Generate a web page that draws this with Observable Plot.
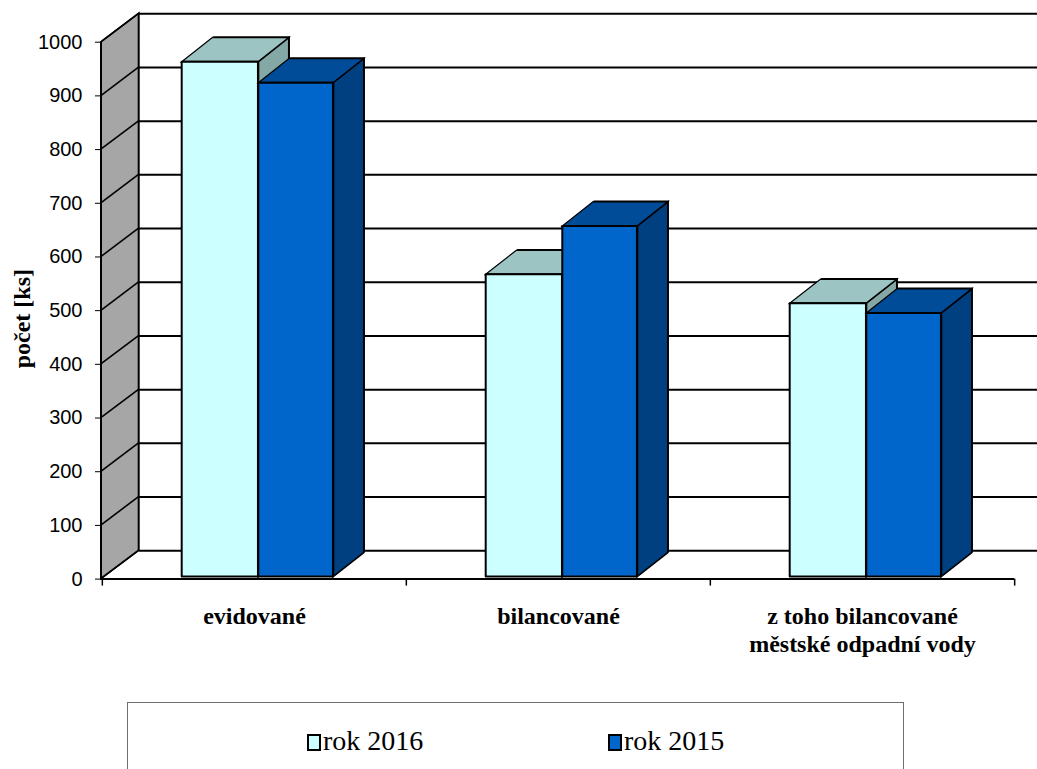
<!DOCTYPE html>
<html><head><meta charset="utf-8">
<script src="https://cdn.jsdelivr.net/npm/d3@7"></script>
<script src="https://cdn.jsdelivr.net/npm/@observablehq/plot@0.6"></script>
<style>
html,body{margin:0;padding:0;background:#fff;overflow:hidden}
body{width:1037px;height:769px;position:relative}
#chart{position:absolute;left:0;top:0}
#legend{position:absolute;left:127px;top:702px;width:777px;height:120px;border:1.5px solid #6e6e6e;box-sizing:border-box;font-family:"Liberation Serif","Times New Roman",serif;font-size:28px;color:#000}
#legend .item{position:absolute;top:21px;line-height:34px;white-space:nowrap}
#legend .sw{display:inline-block;width:10px;height:13px;border:2px solid #000;vertical-align:-1px;margin-right:2px}
</style></head><body>
<div id="chart"></div>
<div id="legend"></div>
<script>
// ---- data ----
const categories = ["evidované", "bilancované", "z toho bilancované\nměstské odpadní vody"];
const series = ["rok 2016", "rok 2015"];
const values2016 = [959, 563, 509];
const values2015 = [920, 653, 491];
const yTicks = [0, 100, 200, 300, 400, 500, 600, 700, 800, 900, 1000];
const yTitle = "počet [ks]";

// ---- styles ----
const colors = {
  "rok 2016": {front: "#ccffff", top: "#9cc4c2", side: "#84a8a5"},
  "rok 2015": {front: "#0066cc", top: "#004c99", side: "#003f80"}
};
const wallDepth = {dx: 37.7, dy: -28.4};
const barDepth = {dx: 31, dy: -24.4};
const barShift = {dx: 3, dy: -2};
const W = 1037, H = 690, mL = 101, mR = 23, mT = 41.7, mB = H - 578.6;
const band = (W - mL - mR) / categories.length;
const barL = [76.7, 153.3], barR = [153.3, 228.3]; // within band, per series

const rows = [];
categories.forEach((c, i) => {
  rows.push({cat: c, series: series[0], value: values2016[i]});
  rows.push({cat: c, series: series[1], value: values2015[i]});
});

const barMarks = [];
series.forEach((s, si) => {
  const data = rows.filter(d => d.series === s);
  const common = {x: "cat", dx: barShift.dx, dy: barShift.dy, stroke: "#000", strokeWidth: 2, strokeLinejoin: "round"};
  // side face
  barMarks.push(Plot.barY(data, {...common, y1: 0, y2: "value", fill: colors[s].side,
    insetLeft: barR[si], insetRight: band - barR[si] - barDepth.dx, ariaDescription: "side"}));
  // top face
  barMarks.push(Plot.barY(data, {...common, y1: "value", y2: "value", fill: colors[s].top,
    insetLeft: barL[si], insetRight: band - barR[si], insetTop: barDepth.dy, ariaDescription: "top"}));
  // front face
  barMarks.push(Plot.barY(data, {...common, y1: 0, y2: "value", fill: colors[s].front,
    insetLeft: barL[si], insetRight: band - barR[si], ariaDescription: "front"}));
});

const chart = Plot.plot({
  width: W, height: H,
  marginLeft: mL, marginRight: mR, marginTop: mT, marginBottom: mB,
  style: {fontFamily: "'Liberation Sans', Arial, sans-serif", fontSize: "20px", color: "#000", background: "#fff", overflow: "hidden"},
  x: {domain: categories, padding: 0, axis: null},
  y: {domain: [0, 1000], ticks: yTicks, tickSize: 6, tickPadding: 13, label: null, tickFormat: d => String(d)},
  marks: [
    // left side wall
    Plot.frame({fill: "#a6a6a6", stroke: "#000", strokeWidth: 2, insetRight: W - mL - mR - wallDepth.dx, ariaDescription: "wall"}),
    // back wall gridlines
    Plot.ruleY(yTicks, {stroke: "#000", strokeWidth: 2, dx: wallDepth.dx, dy: wallDepth.dy}),
    // side wall diagonals
    Plot.ruleY(yTicks, {stroke: "#000", strokeWidth: 2, insetRight: W - mL - mR - wallDepth.dx, ariaDescription: "walldiag"}),
    // front baseline
    Plot.ruleY([0], {stroke: "#000", strokeWidth: 2}),
    // category boundary ticks
    Plot.ruleX(categories, {x: d => d, dx: -band / 2, stroke: "#000", strokeWidth: 1.5, insetTop: 536.9, insetBottom: -7}),
    Plot.ruleX(categories.slice(-1), {x: d => d, dx: band / 2, stroke: "#000", strokeWidth: 1.5, insetTop: 536.9, insetBottom: -7}),
    ...barMarks,
    // category labels
    Plot.text(categories, {x: d => d, text: d => d, frameAnchor: "bottom", lineAnchor: "top", dy: 24,
      fontFamily: "'Liberation Serif', 'Times New Roman', serif", fontWeight: "bold", fontSize: 24, lineHeight: 1.2}),
    // y title
    Plot.text([yTitle], {frameAnchor: "left", textAnchor: "middle", rotate: -90, dx: -79.5, dy: 8, text: d => d,
      fontFamily: "'Liberation Serif', 'Times New Roman', serif", fontWeight: "bold", fontSize: 24})
  ]
});
document.getElementById("chart").appendChild(chart);

// ---- apply oblique (3D) projection to the depth faces ----
const svg = d3.select(chart.tagName.toLowerCase() === "svg" ? chart : chart.querySelector("svg"));
const kw = wallDepth.dy / wallDepth.dx;
svg.selectAll('[aria-description="wall"], [aria-description="walldiag"]')
  .attr("transform", `matrix(1,${kw},0,1,0,${-kw * mL})`);
const rectsOf = sel => sel.node() && sel.node().tagName === "rect" ? sel : sel.selectAll("rect");
svg.selectAll('[aria-description="top"]').each(function () {
  rectsOf(d3.select(this)).each(function () {
    const r = d3.select(this);
    const yb = +r.attr("y") + +r.attr("height");
    const kk = barDepth.dx / barDepth.dy; // negative
    r.attr("transform", `matrix(1,0,${kk},1,${-kk * yb},0)`);
  });
});
svg.selectAll('[aria-description="side"]').each(function () {
  rectsOf(d3.select(this)).each(function () {
    const r = d3.select(this);
    const xa = +r.attr("x");
    const kk = barDepth.dy / barDepth.dx; // negative
    r.attr("transform", `matrix(1,${kk},0,1,0,${-kk * xa})`);
  });
});

// ---- legend ----
const legend = d3.select("#legend");
const legendX = [179, 480];
series.forEach((s, i) => {
  const it = legend.append("div").attr("class", "item").style("left", legendX[i] + "px");
  it.append("span").attr("class", "sw").style("background", colors[s].front);
  it.append("span").text(s);
});
</script>
</body></html>
